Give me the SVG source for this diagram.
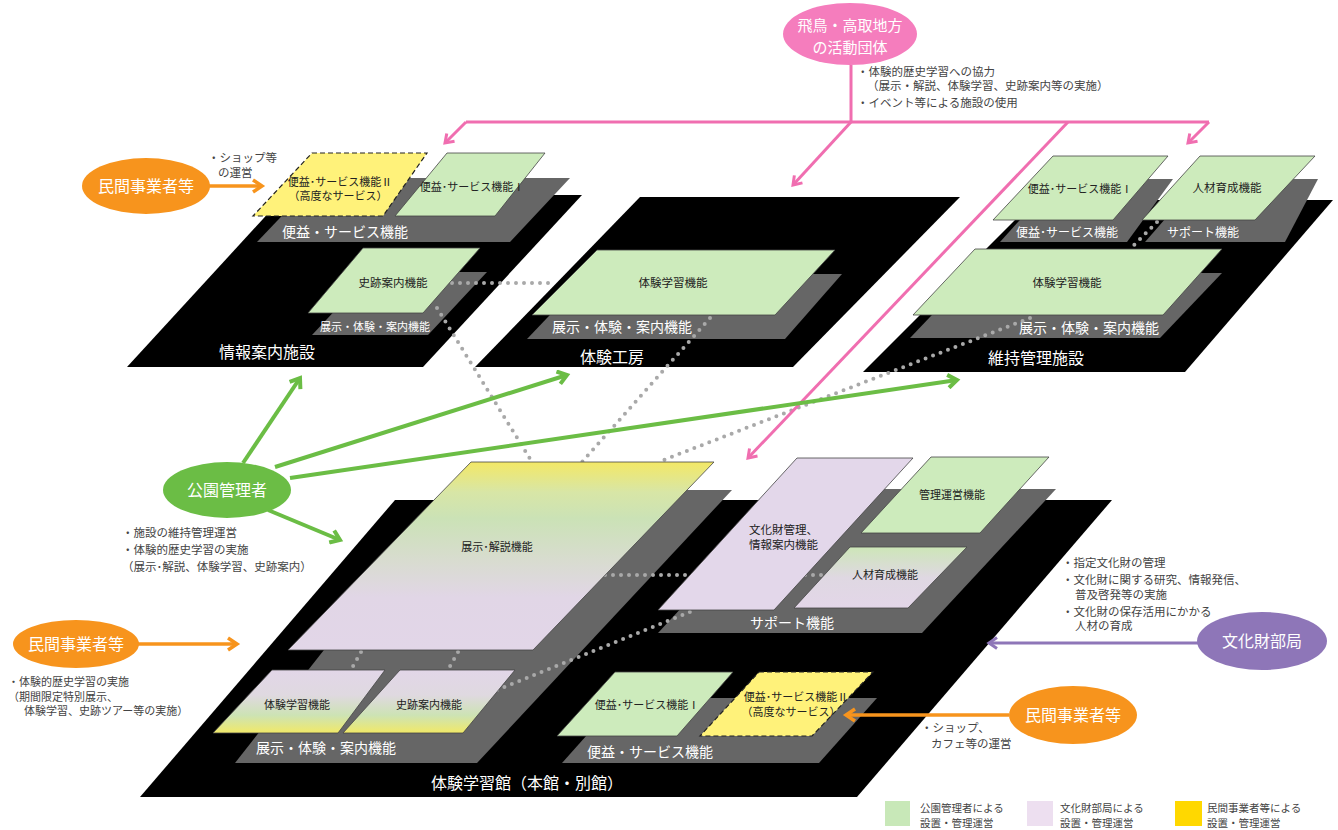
<svg xmlns="http://www.w3.org/2000/svg" width="1338" height="830" viewBox="0 0 1338 830">
<defs>
<style>
text{font-family:"Noto Sans CJK JP","Noto Sans",sans-serif}
.blk{fill:#000}
.band{fill:#666}
.grn{fill:#cdebbc;stroke:#444;stroke-width:0.8}
.pur{fill:#e3d7ea;stroke:#444;stroke-width:0.8}
.yel{fill:#fff27a;stroke:#222;stroke-width:1.2;stroke-dasharray:5 3}
.wt{fill:#fff;text-anchor:middle}
.bt{fill:#222;text-anchor:middle;font-size:11.5px}
.ds{fill:#444;font-size:11.5px}
.lg{fill:#444;font-size:10.5px}
.dot{fill:none;stroke:#a9a9a9;stroke-width:4;stroke-linecap:round;stroke-dasharray:0 8}
.pk{fill:none;stroke:#f06eb0;stroke-width:3}
.gr{fill:none;stroke:#6bbd45;stroke-width:4}
.or{fill:none;stroke:#f7941d;stroke-width:3.5}
.pu{fill:none;stroke:#8e76b8;stroke-width:3}
.t16{font-size:16px}
.t15{font-size:15px}
.t14{font-size:14px}
.t12{font-size:12px}
.t11{font-size:11px}
</style>
<marker id="mPk" markerUnits="userSpaceOnUse" markerWidth="14" markerHeight="14" refX="10" refY="7" orient="auto"><path d="M2,1.5 L10,7 L2,12.5" fill="none" stroke="#f06eb0" stroke-width="3"/></marker>
<marker id="mGr" markerUnits="userSpaceOnUse" markerWidth="16" markerHeight="16" refX="11" refY="8" orient="auto"><path d="M2,1.5 L11,8 L2,14.5" fill="none" stroke="#6bbd45" stroke-width="4"/></marker>
<marker id="mOr" markerUnits="userSpaceOnUse" markerWidth="16" markerHeight="16" refX="11" refY="8" orient="auto"><path d="M2,2 L11,8 L2,14" fill="none" stroke="#f7941d" stroke-width="3.5"/></marker>
<marker id="mPu" markerUnits="userSpaceOnUse" markerWidth="14" markerHeight="14" refX="10" refY="7" orient="auto"><path d="M2,1.5 L10,7 L2,12.5" fill="none" stroke="#8e76b8" stroke-width="3"/></marker>
<linearGradient id="gExp" gradientUnits="userSpaceOnUse" x1="0" y1="462" x2="0" y2="650">
<stop offset="0" stop-color="#f3e866"/><stop offset="0.16" stop-color="#d8e6a6"/><stop offset="0.3" stop-color="#cbe2b6"/><stop offset="0.52" stop-color="#d8dccf"/><stop offset="0.72" stop-color="#e1d6e6"/><stop offset="1" stop-color="#e2d6e8"/>
</linearGradient>
<linearGradient id="gSm" x1="0" y1="0" x2="0" y2="1">
<stop offset="0" stop-color="#e2d6e8"/><stop offset="0.4" stop-color="#dfd9e0"/><stop offset="0.72" stop-color="#cde3b4"/><stop offset="1" stop-color="#f1e968"/>
</linearGradient>
<linearGradient id="gHr" x1="0" y1="0" x2="0" y2="1">
<stop offset="0" stop-color="#cde6b8"/><stop offset="0.5" stop-color="#dfd8e2"/><stop offset="1" stop-color="#e3d6e8"/>
</linearGradient>
</defs>
<rect width="1338" height="830" fill="#fff"/>

<!-- platforms -->
<g id="facility-info">
<polygon class="blk" points="285,195 582,195 423,367 127,367"/>
<polygon class="band" points="318,178 570,178 510,242 257,242"/>
<polygon class="band" points="371,272 487,272 428,335 312,335"/>
<text class="wt t14" x="345" y="237">便益・サービス機能</text>
<text class="wt t11" x="375" y="331">展示・体験・案内機能</text>
<text class="wt t16" x="267" y="358">情報案内施設</text>
</g>
<g id="facility-workshop">
<polygon class="blk" points="640,197 960,197 793,367 475,367"/>
<polygon class="band" points="589,274 842,274 785,339 527,339"/>
<text class="wt t14" x="622" y="332">展示・体験・案内機能</text>
<text class="wt t16" x="612" y="363">体験工房</text>
</g>
<g id="facility-maintenance">
<polygon class="blk" points="1035,200 1333,200 1185,372 863,372"/>
<polygon class="band" points="1057,179 1173,179 1127,242 1000,242"/>
<polygon class="band" points="1200,179 1318,179 1285,242 1145,242"/>
<polygon class="band" points="972,273 1222,273 1160,338 910,338"/>
<text class="wt t12" x="1067" y="237">便益･サービス機能</text>
<text class="wt t12" x="1203" y="237">サポート機能</text>
<text class="wt t14" x="1089" y="333">展示・体験・案内機能</text>
<text class="wt t16" x="1036" y="364">維持管理施設</text>
</g>
<g id="facility-main">
<polygon class="blk" points="395,500 1112,500 857,797 140,797"/>
<polygon class="band" points="450,490 732,490 477,763 235,763"/>
<polygon class="band" points="792,489 1056,489 922,633 658,633"/>
<polygon class="band" points="620,698 877,698 819,763 562,763"/>
<text class="wt t14" x="326" y="753">展示・体験・案内機能</text>
<text class="wt t14" x="792" y="628">サポート機能</text>
<text class="wt t14" x="650" y="757">便益・サービス機能</text>
<text class="wt t16" x="527" y="789">体験学習館（本館・別館）</text>
</g>

<!-- connectors -->
<g id="connectors">
<line class="dot" x1="452" y1="283" x2="553" y2="283"/>
<line class="dot" x1="437" y1="308" x2="532" y2="462"/>
<line class="dot" x1="710" y1="318" x2="582" y2="462"/>
<line class="dot" x1="1030" y1="318" x2="661" y2="461"/>
<line class="dot" x1="1157" y1="222" x2="1130" y2="249"/>
<line class="dot" x1="361" y1="652" x2="352" y2="668"/>
<line class="dot" x1="458" y1="652" x2="449" y2="668"/>
<line class="dot" x1="340" y1="702" x2="364" y2="696"/>
<line class="dot" x1="605" y1="575" x2="826" y2="575"/>
<line class="dot" x1="497" y1="690" x2="690" y2="612"/>

<path class="pk" d="M851,65 V122 M466,122 H1209"/>
<line class="pk" x1="466" y1="122" x2="445" y2="143" marker-end="url(#mPk)"/>
<line class="pk" x1="851" y1="122" x2="793" y2="185" marker-end="url(#mPk)"/>
<line class="pk" x1="1068" y1="122" x2="748" y2="458" marker-end="url(#mPk)"/>
<line class="pk" x1="1209" y1="122" x2="1188" y2="143" marker-end="url(#mPk)"/>

<line class="or" x1="208" y1="186" x2="262" y2="186" marker-end="url(#mOr)"/>
<line class="gr" x1="243" y1="463" x2="300" y2="378" marker-end="url(#mGr)"/>
<line class="gr" x1="275" y1="467" x2="567" y2="375" marker-end="url(#mGr)"/>
<line class="gr" x1="290" y1="478" x2="957" y2="380" marker-end="url(#mGr)"/>
<line class="gr" x1="268" y1="510" x2="340" y2="540" marker-end="url(#mGr)"/>
<line class="or" x1="137" y1="644" x2="237" y2="644" marker-end="url(#mOr)"/>
<line class="pu" x1="1198" y1="643" x2="989" y2="643" marker-end="url(#mPu)"/>
<line class="or" x1="1009" y1="715" x2="846" y2="715" marker-end="url(#mOr)"/>
</g>

<!-- function boxes: info facility -->
<g id="info-service2">
<polygon class="yel" points="312,153 427,153 383,216 253,216"/>
<text class="bt t11" x="340" y="186">便益･サービス機能Ⅱ</text>
<text class="bt t11" x="338" y="200">（高度なサービス）</text>
</g>
<g id="info-service1">
<polygon class="grn" points="447,153 545,153 495,216 395,216"/>
<text class="bt t11" x="472" y="191">便益･サービス機能Ⅰ</text>
</g>
<g id="info-guide">
<polygon class="grn" points="363,248 480,248 423,313 308,313"/>
<text class="bt" x="393" y="287">史跡案内機能</text>
</g>
<g id="workshop-learning">
<polygon class="grn" points="597,250 835,250 775,315 532,315"/>
<text class="bt" x="673" y="287">体験学習機能</text>
</g>
<g id="maint-service1">
<polygon class="grn" points="1053,156 1168,156 1113,220 993,220"/>
<text class="bt t11" x="1080" y="193">便益･サービス機能Ⅰ</text>
</g>
<g id="maint-hr">
<polygon class="grn" points="1200,156 1315,156 1255,220 1142,220"/>
<text class="bt" x="1227" y="192">人材育成機能</text>
</g>
<g id="maint-learning">
<polygon class="grn" points="975,249 1222,249 1163,315 913,315"/>
<text class="bt" x="1067" y="287">体験学習機能</text>
</g>

<!-- function boxes: main building -->
<g id="main-exhibit">
<polygon points="471,462 714,462 533,650 288,650" fill="url(#gExp)" stroke="#444" stroke-width="0.8"/>
<text class="bt t11" x="497" y="551">展示･解説機能</text>
</g>
<g id="main-learning">
<polygon points="272,670 385,670 338,733 213,733" fill="url(#gSm)" stroke="#444" stroke-width="0.8"/>
<text class="bt t11" x="297" y="709">体験学習機能</text>
</g>
<g id="main-guide">
<polygon points="400,670 515,670 463,733 343,733" fill="url(#gSm)" stroke="#444" stroke-width="0.8"/>
<text class="bt t11" x="429" y="709">史跡案内機能</text>
</g>
<g id="main-heritage">
<polygon class="pur" points="797,458 913,458 774,610 658,610"/>
<text class="bt" x="749" y="534" style="text-anchor:start">文化財管理、</text>
<text class="bt" x="749" y="549" style="text-anchor:start">情報案内機能</text>
</g>
<g id="main-management">
<polygon class="grn" points="931,457 1049,457 980,533 861,533"/>
<text class="bt t11" x="952" y="499">管理運営機能</text>
</g>
<g id="main-hr">
<polygon points="850,547 967,547 908,608 794,608" fill="url(#gHr)" stroke="#444" stroke-width="0.8"/>
<text class="bt t11" x="885" y="579">人材育成機能</text>
</g>
<g id="main-service1">
<polygon class="grn" points="615,672 733,672 677,736 557,736"/>
<text class="bt t11" x="647" y="709">便益･サービス機能Ⅰ</text>
</g>
<g id="main-service2">
<polygon class="yel" points="759,672 873,672 812,736 700,736"/>
<text class="bt t11" x="796" y="701">便益･サービス機能Ⅱ</text>
<text class="bt t11" x="791" y="716">（高度なサービス）</text>
</g>

<!-- actors -->
<g id="actor-asuka">
<ellipse cx="850" cy="34" rx="67" ry="31" fill="#f57dbd"/>
<text class="wt t15" x="850" y="31">飛鳥・高取地方</text>
<text class="wt t15" x="850" y="53">の活動団体</text>
<text class="ds" x="857" y="76">・体験的歴史学習への協力</text>
<text class="ds" x="867" y="90">（展示・解説、体験学習、史跡案内等の実施）</text>
<text class="ds" x="857" y="107">・イベント等による施設の使用</text>
</g>
<g id="actor-private-top">
<ellipse cx="146" cy="186" rx="64" ry="28" fill="#f7941d"/>
<text class="wt t16" x="146" y="192">民間事業者等</text>
<text class="ds" x="208" y="162">・ショップ等</text>
<text class="ds" x="218" y="177">の運営</text>
</g>
<g id="actor-park">
<ellipse cx="227" cy="490" rx="64" ry="28" fill="#6bbd45"/>
<text class="wt t16" x="227" y="496">公園管理者</text>
<text class="ds" x="122" y="537">・施設の維持管理運営</text>
<text class="ds" x="122" y="554">・体験的歴史学習の実施</text>
<text class="ds" x="122" y="571">（展示･解説、体験学習、史跡案内）</text>
</g>
<g id="actor-private-left">
<ellipse cx="76" cy="644" rx="63" ry="24" fill="#f7941d"/>
<text class="wt t16" x="76" y="650">民間事業者等</text>
<text class="ds" x="8" y="686" style="font-size:11px">・体験的歴史学習の実施</text>
<text class="ds" x="8" y="701" style="font-size:11px">（期間限定特別展示、</text>
<text class="ds" x="24" y="715" style="font-size:11px">体験学習、史跡ツアー等の実施）</text>
</g>
<g id="actor-bunka">
<ellipse cx="1262" cy="641" rx="65" ry="29" fill="#8e76b8"/>
<text class="wt t16" x="1262" y="647">文化財部局</text>
<text class="ds" x="1062" y="567">・指定文化財の管理</text>
<text class="ds" x="1062" y="584">・文化財に関する研究、情報発信、</text>
<text class="ds" x="1075" y="599">普及啓発等の実施</text>
<text class="ds" x="1062" y="616">・文化財の保存活用にかかる</text>
<text class="ds" x="1075" y="630">人材の育成</text>
</g>
<g id="actor-private-right">
<ellipse cx="1073" cy="715" rx="64" ry="29" fill="#f7941d"/>
<text class="wt t16" x="1073" y="721">民間事業者等</text>
<text class="ds" x="921" y="732">・ショップ、</text>
<text class="ds" x="931" y="748">カフェ等の運営</text>
</g>

<!-- legend -->
<g id="legend">
<rect x="885" y="801" width="25" height="25" fill="#c8e8b8"/>
<text class="lg" x="920" y="812">公園管理者による</text>
<text class="lg" x="920" y="827">設置・管理運営</text>
<rect x="1027" y="801" width="26" height="25" fill="#eddff0"/>
<text class="lg" x="1060" y="812">文化財部局による</text>
<text class="lg" x="1060" y="827">設置・管理運営</text>
<rect x="1175" y="801" width="27" height="25" fill="#ffd800"/>
<text class="lg" x="1207" y="812">民間事業者等による</text>
<text class="lg" x="1207" y="827">設置・管理運営</text>
</g>
</svg>
